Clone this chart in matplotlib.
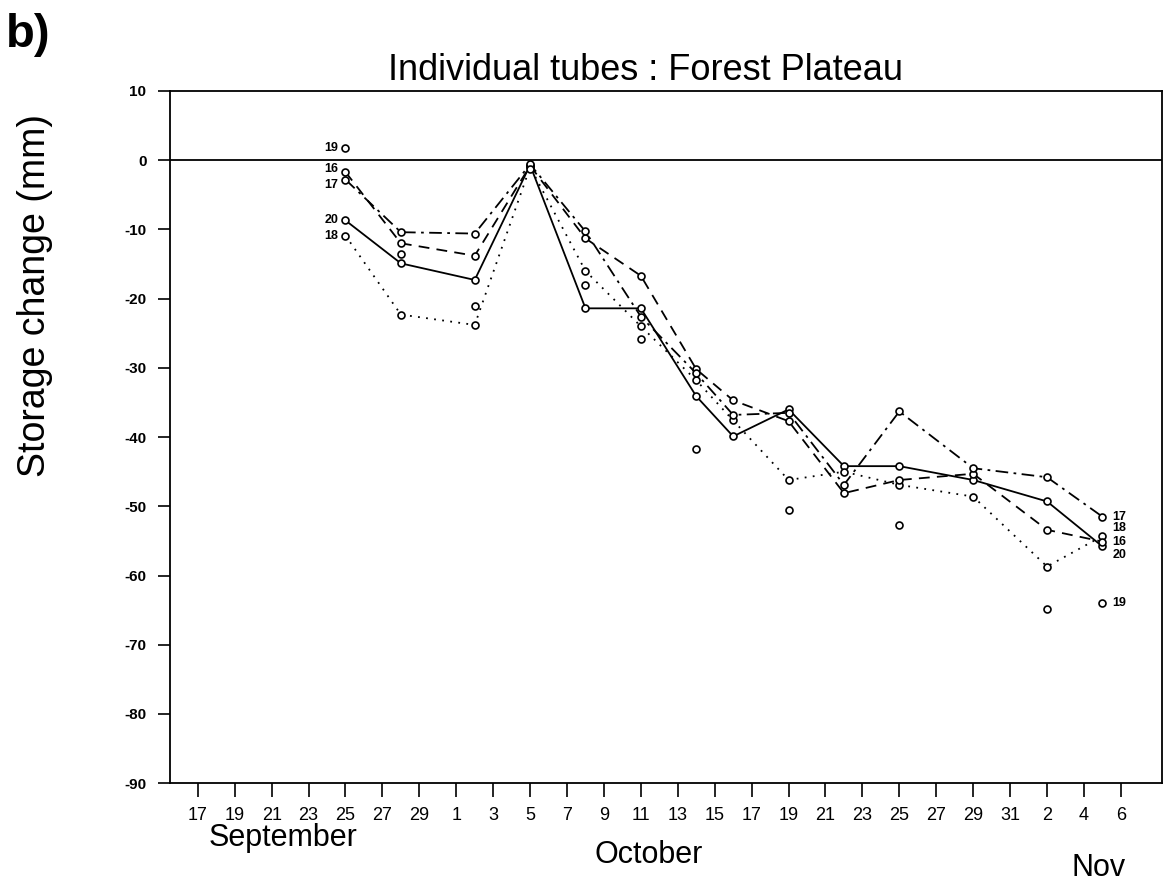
import matplotlib as mpl
mpl.use('Agg')
import matplotlib.pyplot as plt

plt.rcParams['font.family'] = ['Liberation Sans', 'DejaVu Sans']
plt.rcParams['axes.unicode_minus'] = False

# reading days, counted from 17 September
days = [8, 11, 15, 18, 21, 24, 27, 29, 32, 35, 38, 42, 46, 49]

tube16 = [-1.7, -12.0, -13.8, -0.8, -11.3, -16.7, -30.2, -34.7, -37.7, -48.1, -46.2, -45.3, -53.4, -55.1]
tube17 = [-2.8, -10.4, -10.6, -0.6, -10.3, -22.6, -30.8, -36.8, -36.5, -46.9, -36.3, -44.5, -45.8, -51.5]
tube18 = [-10.9, -22.3, -23.8, -1.0, -16.0, -24.0, -31.8, -37.6, -46.2, -45.0, -46.9, -48.6, -58.7, -54.3]
tube19 = [1.8, -13.6, -21.1, -1.2, -18.1, -25.8, -41.7, None, -50.6, None, -52.7, None, -64.9, -64.0]
tube20 = [-8.7, -14.9, -17.3, -0.7, -21.4, -21.4, -34.1, -39.9, -36.0, -44.2, -44.2, -46.2, -49.3, -55.8]

tick_days = list(range(0, 51, 2))
tick_labels = ['17', '19', '21', '23', '25', '27', '29', '1', '3', '5', '7', '9', '11', '13',
               '15', '17', '19', '21', '23', '25', '27', '29', '31', '2', '4', '6']

fig = plt.figure(figsize=(11.65, 8.92), dpi=100)
ax = fig.add_axes([0.146, 0.122, 0.851, 0.776])

mk = dict(marker='o', markersize=5, markerfacecolor='white', markeredgecolor='black',
          markeredgewidth=1.2, color='black', linewidth=1.3)

ax.plot(days, tube20, linestyle='-', **mk)
ax.plot(days, tube18, linestyle=(0, (1, 3.5)), **mk)
ax.plot(days, tube16, linestyle=(0, (6, 4)), **mk)
ax.plot(days, tube17, linestyle=(0, (7, 3, 1.5, 3)), **mk)
t19 = [v if v is not None else float('nan') for v in tube19]
ax.plot(days, t19, linestyle='none', **mk)  # tube 19: points only

ax.axhline(0, color='black', linewidth=1.3)

# tube numbers next to first and last readings
first = {'19': (tube19[0], 0), '16': (tube16[0], 2), '17': (tube17[0], -4),
         '20': (tube20[0], 0), '18': (tube18[0], 0)}
for name, (v, dy) in first.items():
    ax.annotate(name, (days[0], v), xytext=(-5, dy), textcoords='offset points',
                ha='right', va='center', fontsize=9, fontweight='bold')
last = {'17': (tube17[-1], 0), '18': (tube18[-1], 6), '16': (tube16[-1], 0),
        '20': (tube20[-1], -6), '19': (tube19[-1], 0)}
for name, (v, dy) in last.items():
    ax.annotate(name, (days[-1], v), xytext=(7, dy), textcoords='offset points',
                ha='left', va='center', fontsize=9, fontweight='bold')

ax.set_xlim(-1.5, 52.2)
ax.set_ylim(-90, 10)
ax.set_yticks(range(-90, 11, 10))
ax.set_xticks(tick_days)
ax.set_xticklabels(tick_labels, fontsize=13)
ax.tick_params(axis='y', labelsize=11, direction='out', length=9, width=1.2, pad=8)
ax.tick_params(axis='x', direction='out', length=10, width=1.2, pad=7)
for lab in ax.get_yticklabels():
    lab.set_fontweight('bold')
for s in ax.spines.values():
    s.set_linewidth(1.3)

tr = ax.get_xaxis_transform()
ax.text(4.6, -0.079, 'September', transform=tr, ha='center', va='center', fontsize=22)
ax.text(24.4, -0.104, 'October', transform=tr, ha='center', va='center', fontsize=22)
ax.text(48.8, -0.123, 'Nov', transform=tr, ha='center', va='center', fontsize=22)

fig.text(0.554, 0.921, 'Individual tubes : Forest Plateau', ha='center', va='center', fontsize=26)
fig.text(0.03, 0.669, 'Storage change (mm)', rotation=90, ha='center', va='center', fontsize=27)
fig.text(0.005, 0.985, 'b)', ha='left', va='top', fontsize=34, fontweight='bold')

fig.savefig('out.png', dpi=100)
